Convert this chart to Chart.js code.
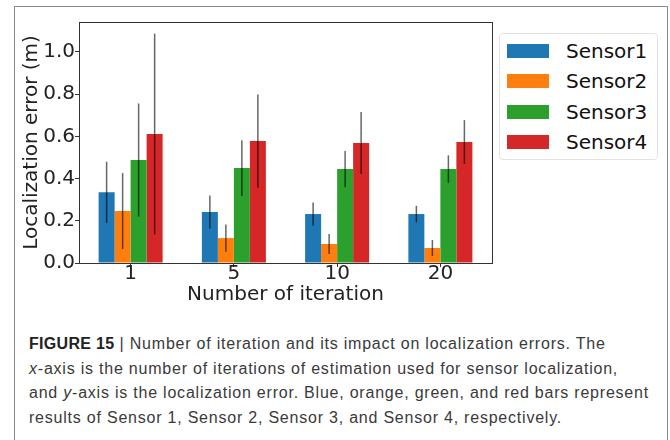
<!DOCTYPE html>
<html>
<head>
<meta charset="utf-8">
<script src="https://cdn.jsdelivr.net/npm/chart.js@4"></script>
<style>
  html, body { margin: 0; padding: 0; background: #fff; }
  body { width: 670px; height: 440px; position: relative; overflow: hidden; }
  #frame { position: absolute; left: 14px; top: 6px; width: 652px; height: 460px; border: 1px solid #8a8a8a; }
  #chartBox { position: absolute; left: 0; top: 0; width: 670px; height: 310px; }
  #legend { position: absolute; left: 499px; top: 33px; width: 157px; height: 125px;
            border: 1px solid #e3e3e3; border-radius: 4px; background: #fff;
            font-family: "DejaVu Sans", sans-serif; font-size: 20px; color: #111; }
  .row { position: absolute; left: 0; height: 30px; }
  .patch { position: absolute; left: 7px; width: 42px; height: 14px; }
  .lbl { position: absolute; left: 66px; white-space: nowrap; line-height: 24px; }
  #caption { position: absolute; left: 29px; top: 332px; font-family: "Liberation Sans", Arial, sans-serif;
             font-size: 16px; letter-spacing: 0.78px; line-height: 24.7px; color: #3a3a3a; white-space: nowrap; }
  #caption b { color: #222; letter-spacing: 0.3px; }
</style>
</head>
<body>
<div id="frame"></div>
<div id="chartBox"><canvas id="errChart" width="670" height="310"></canvas></div>
<div id="legend"></div>
<div id="caption">
  <b>FIGURE 15</b> | Number of iteration and its impact on localization errors. The<br>
  <i>x</i>-axis is the number of iterations of estimation used for sensor localization,<br>
  and <i>y</i>-axis is the localization error. Blue, orange, green, and red bars represent<br>
  results of Sensor 1, Sensor 2, Sensor 3, and Sensor 4, respectively.
</div>
<script>
// categories (number of iterations)
const iterations = ['1', '5', '10', '20'];

// mean localization error per sensor (m)
const sensor1 = [0.335, 0.242, 0.232, 0.232];
const sensor2 = [0.246, 0.118, 0.090, 0.071];
const sensor3 = [0.488, 0.450, 0.445, 0.445];
const sensor4 = [0.611, 0.578, 0.569, 0.573];

// error bar half-lengths (m)
const err1 = [0.145, 0.078, 0.055, 0.039];
const err2 = [0.180, 0.065, 0.047, 0.038];
const err3 = [0.268, 0.132, 0.086, 0.065];
const err4 = [0.476, 0.221, 0.147, 0.104];

const sensorNames = ['Sensor1', 'Sensor2', 'Sensor3', 'Sensor4'];
const sensorColors = ['#1f77b4', '#ff7f0e', '#2ca02c', '#d62728'];
const yTicks = [0, 0.2, 0.4, 0.6, 0.8, 1.0];

const values = [sensor1, sensor2, sensor3, sensor4];
const errors = [err1, err2, err3, err4];

const FONT = { family: 'DejaVu Sans', size: 20 };

// draws vertical error bars on top of each bar
const errorBars = {
    id: 'errorBars',
    afterDatasetsDraw(chart) {
        const ctx = chart.ctx;
        const y = chart.scales.y;
        ctx.save();
        ctx.strokeStyle = 'rgba(0,0,0,0.6)';
        ctx.lineWidth = 1.5;
        chart.data.datasets.forEach((ds, i) => {
            const meta = chart.getDatasetMeta(i);
            meta.data.forEach((bar, j) => {
                const v = ds.data[j], e = ds.errors[j];
                ctx.beginPath();
                ctx.moveTo(bar.x, y.getPixelForValue(v + e));
                ctx.lineTo(bar.x, y.getPixelForValue(v - e));
                ctx.stroke();
            });
        });
        ctx.restore();
    }
};

// box around the plot area
const plotFrame = {
    id: 'plotFrame',
    afterDraw(chart) {
        const a = chart.chartArea;
        const ctx = chart.ctx;
        ctx.save();
        ctx.strokeStyle = '#333';
        ctx.lineWidth = 1;
        ctx.strokeRect(Math.round(a.left) + 0.5, Math.round(a.top) + 0.5,
                       Math.round(a.right - a.left), Math.round(a.bottom - a.top));
        ctx.restore();
    }
};

const ctx = document.getElementById('errChart').getContext('2d');
new Chart(ctx, {
    type: 'bar',
    data: {
        labels: iterations,
        datasets: sensorNames.map((name, i) => ({
            label: name,
            data: values[i],
            errors: errors[i],
            backgroundColor: sensorColors[i],
            borderWidth: 0,
            categoryPercentage: 0.62,
            barPercentage: 1.0
        }))
    },
    options: {
        responsive: false,
        animation: false,
        devicePixelRatio: 1,
        layout: { padding: { top: 22, right: 178, left: 0, bottom: 0 } },
        plugins: { legend: { display: false }, tooltip: { enabled: false } },
        scales: {
            x: {
                grid: { display: true, drawOnChartArea: false, offset: false, tickLength: 4, color: '#333' },
                border: { display: false },
                ticks: { font: FONT, color: '#222', padding: -5, maxRotation: 0 },
                title: { display: true, text: 'Number of iteration', font: FONT, color: '#222', padding: { top: 0, bottom: 3 } },
                afterFit(scale) { scale.height = 47; }
            },
            y: {
                min: 0,
                max: 1.142,
                grid: { display: true, drawOnChartArea: false, tickLength: 4, color: '#333' },
                border: { display: false },
                ticks: {
                    font: FONT, color: '#222', padding: 0, stepSize: 0.2, includeBounds: false,
                    callback: (v) => yTicks.some(t => Math.abs(t - v) < 1e-6) ? v.toFixed(1) : ''
                },
                title: { display: true, text: 'Localization error (m)', font: FONT, color: '#222', padding: { top: 20, bottom: 0 } },
                afterFit(scale) { scale.width = 79; }
            }
        }
    },
    plugins: [errorBars, plotFrame]
});

// legend built from the series names and colours
const legend = document.getElementById('legend');
sensorNames.forEach((name, i) => {
    const row = document.createElement('div');
    row.className = 'row';
    row.style.top = (2 + i * 30.3) + 'px';
    row.innerHTML = '<div class="patch" style="top:8px;background:' + sensorColors[i] + '"></div>' +
                    '<div class="lbl" style="top:3px">' + name + '</div>';
    legend.appendChild(row);
});
</script>
</body>
</html>
